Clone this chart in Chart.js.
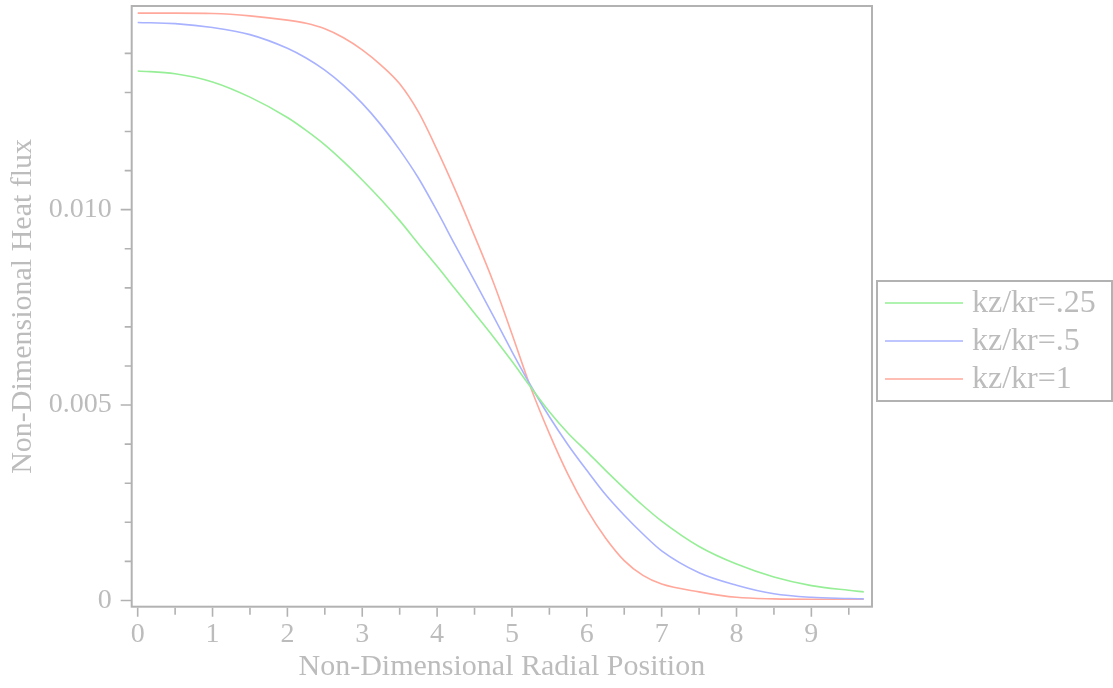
<!DOCTYPE html>
<html>
<head>
<meta charset="utf-8">
<script src="https://cdn.jsdelivr.net/npm/chart.js@4/dist/chart.umd.min.js"></script>
<style>
  html, body { margin: 0; padding: 0; background: #ffffff; }
  #wrap { width: 1113px; height: 688px; }
</style>
</head>
<body>
<div id="wrap"><canvas id="c" width="1113" height="688"></canvas></div>
<script>
// ---- data ----
const radialPosition = [0, 0.5, 1, 1.5, 2, 2.25, 2.5, 2.75, 3, 3.25, 3.5, 3.75, 4, 4.25, 4.5, 4.75,
  5, 5.25, 5.5, 5.75, 6, 6.25, 6.5, 6.75, 7, 7.5, 8, 8.5, 9, 9.5, 9.7];

const seriesNames = ['kz/kr=.25', 'kz/kr=.5', 'kz/kr=1'];

const flux025 = [0.01355, 0.01348, 0.01327, 0.01288, 0.01236, 0.01203, 0.01166, 0.01123, 0.01076, 0.01026, 0.00972,
  0.00913, 0.00855, 0.00795, 0.00735, 0.00675, 0.00612, 0.00546, 0.00483, 0.00428, 0.00381,
  0.00333, 0.00287, 0.00243, 0.00203, 0.00138, 0.00093, 0.00060, 0.00038, 0.00026, 0.00022];

const flux050 = [0.01479, 0.01476, 0.01466, 0.01448, 0.01413, 0.01388, 0.01357, 0.01318, 0.01272, 0.01217, 0.01153,
  0.01081, 0.00996, 0.00906, 0.00818, 0.00728, 0.00637, 0.00550, 0.00470, 0.00398, 0.00333,
  0.00271, 0.00218, 0.00170, 0.00127, 0.00071, 0.00039, 0.00017, 0.00008, 0.00005, 0.00004];

const flux100 = [0.01503, 0.01503, 0.01502, 0.01496, 0.01485, 0.01477, 0.01463, 0.01440, 0.01409, 0.01370, 0.01322,
  0.01250, 0.01153, 0.01047, 0.00933, 0.00815, 0.00682, 0.00545, 0.00427, 0.00322, 0.00233,
  0.00160, 0.00102, 0.00064, 0.00042, 0.00022, 0.00008, 0.00004, 0.00003, 0.00003, 0.00003];

const xTickValues = [0, 0.5, 1, 1.5, 2, 2.5, 3, 3.5, 4, 4.5, 5, 5.5, 6, 6.5, 7, 7.5, 8, 8.5, 9, 9.5];
const xTickLabels = ['0', '', '1', '', '2', '', '3', '', '4', '', '5', '', '6', '', '7', '', '8', '', '9', ''];
const yTickValues = [0, 0.001, 0.002, 0.003, 0.004, 0.005, 0.006, 0.007, 0.008, 0.009, 0.010, 0.011, 0.012, 0.013, 0.014];
const yTickLabels = ['0', '', '', '', '', '0.005', '', '', '', '', '0.010', '', '', '', ''];

// ---- styles ----
const colors = ['rgb(150,238,150)', 'rgb(168,178,255)', 'rgb(255,168,155)'];
const textColor = '#bcbcbc';
const frameColor = '#b2b2b2';
const fontFamily = '"Liberation Serif", "DejaVu Serif", serif';

const allSeries = [flux025, flux050, flux100];
const datasets = allSeries.map((vals, i) => ({
  label: seriesNames[i],
  data: radialPosition.map((x, j) => ({ x: x, y: vals[j] })),
  borderColor: colors[i],
  backgroundColor: colors[i],
  borderWidth: 1.6,
  pointRadius: 0,
  fill: false,
  cubicInterpolationMode: 'monotone'
}));

const framePlugin = {
  id: 'frameTicks',
  afterDatasetsDraw(chart) {
    const ctx = chart.ctx;
    const a = chart.chartArea;
    const xs = chart.scales.x, ys = chart.scales.y;
    ctx.save();
    ctx.strokeStyle = frameColor;
    ctx.lineWidth = 2;
    ctx.strokeRect(a.left, a.top, a.right - a.left, a.bottom - a.top);
    ctx.lineWidth = 1.6;
    ctx.beginPath();
    xTickValues.forEach((v, i) => {
      const px = xs.getPixelForValue(v);
      const len = xTickLabels[i] !== '' ? 9 : 7;
      ctx.moveTo(px, a.bottom + 1);
      ctx.lineTo(px, a.bottom + 1 + len);
    });
    yTickValues.forEach((v, i) => {
      const py = ys.getPixelForValue(v);
      const len = yTickLabels[i] !== '' ? 11 : 7;
      ctx.moveTo(a.left, py);
      ctx.lineTo(a.left - len, py);
    });
    ctx.stroke();
    ctx.restore();
  },
  afterDraw(chart) {
    const ctx = chart.ctx;
    ctx.save();
    ctx.strokeStyle = frameColor;
    ctx.lineWidth = 2;
    ctx.strokeRect(877, 281, 235, 120);
    ctx.font = '32px ' + fontFamily;
    ctx.textBaseline = 'middle';
    ctx.textAlign = 'left';
    chart.data.datasets.forEach((ds, i) => {
      const y = 303 + i * 38;
      ctx.strokeStyle = ds.borderColor;
      ctx.lineWidth = 1.6;
      ctx.beginPath();
      ctx.moveTo(885, y);
      ctx.lineTo(963, y);
      ctx.stroke();
      ctx.fillStyle = textColor;
      ctx.fillText(ds.label, 972, y + 1);
    });
    ctx.restore();
  }
};

new Chart(document.getElementById('c'), {
  type: 'line',
  data: { datasets: datasets },
  options: {
    responsive: false,
    animation: false,
    devicePixelRatio: 1,
    layout: { padding: { left: 0, top: 6, right: 241, bottom: 0 } },
    plugins: { legend: { display: false }, tooltip: { enabled: false } },
    scales: {
      x: {
        type: 'linear',
        min: -0.08,
        max: 9.81,
        grid: { display: false, drawTicks: false, tickLength: 0 },
        border: { display: false },
        afterBuildTicks(scale) { scale.ticks = xTickValues.map(v => ({ value: v })); },
        afterFit(scale) {
          scale.height = 81.3;
          scale.paddingLeft = 0; scale.paddingRight = 0;
          scale.paddingTop = 0; scale.paddingBottom = 0;
        },
        ticks: {
          autoSkip: false,
          maxRotation: 0,
          padding: 11,
          color: textColor,
          font: { family: fontFamily, size: 28 },
          callback(value, index) { return xTickLabels[index]; }
        },
        title: {
          display: true,
          text: 'Non-Dimensional Radial Position',
          color: textColor,
          font: { family: fontFamily, size: 30 },
          padding: { top: 0, bottom: 3 }
        }
      },
      y: {
        type: 'linear',
        min: -0.00016,
        max: 0.015212,
        grid: { display: false, drawTicks: false, tickLength: 0 },
        border: { display: false },
        afterBuildTicks(scale) { scale.ticks = yTickValues.map(v => ({ value: v })); },
        afterFit(scale) {
          scale.width = 131.7;
          scale.paddingLeft = 0; scale.paddingRight = 0;
          scale.paddingTop = 0; scale.paddingBottom = 0;
        },
        ticks: {
          autoSkip: false,
          padding: 20,
          color: textColor,
          font: { family: fontFamily, size: 28 },
          callback(value, index) { return yTickLabels[index]; }
        },
        title: {
          display: true,
          text: 'Non-Dimensional Heat flux',
          color: textColor,
          font: { family: fontFamily, size: 30 },
          padding: { top: 5, bottom: 0 }
        }
      }
    }
  },
  plugins: [framePlugin]
});
</script>
</body>
</html>
